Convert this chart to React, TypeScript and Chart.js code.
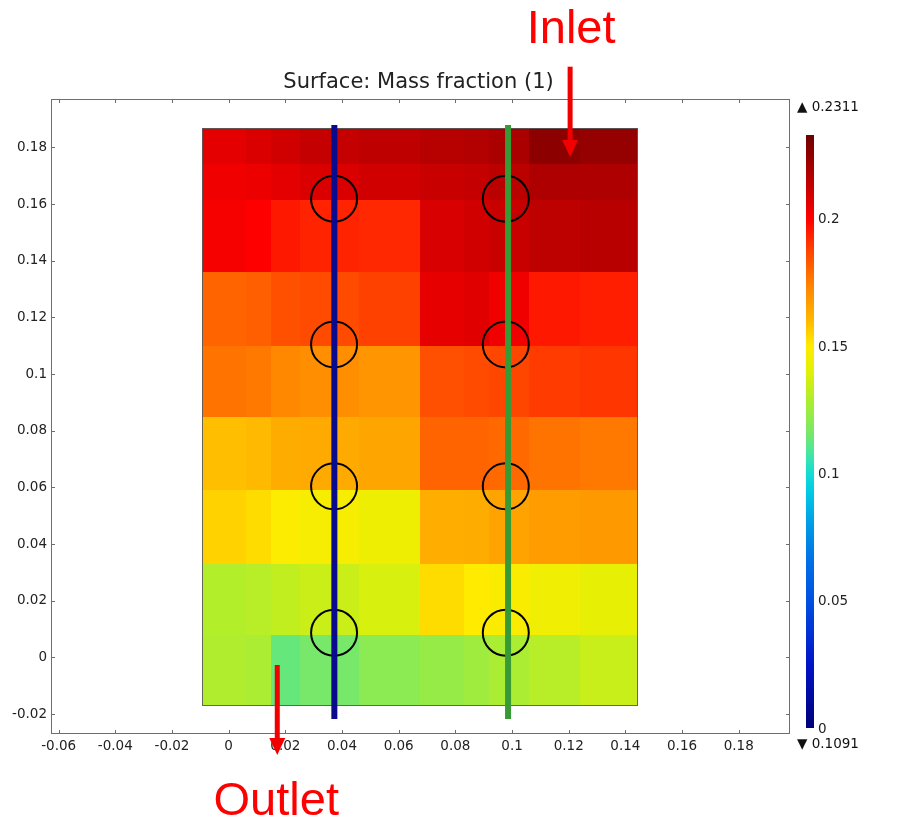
import React, { useEffect, useRef } from 'react';
import { Chart, registerables } from 'chart.js';

Chart.register(...registerables);

// ---------- axis ticks ----------
const xTicks = [-0.06, -0.04, -0.02, 0, 0.02, 0.04, 0.06, 0.08, 0.1, 0.12, 0.14, 0.16, 0.18];
const xTickLabels = ['-0.06', '-0.04', '-0.02', '0', '0.02', '0.04', '0.06', '0.08', '0.1', '0.12', '0.14', '0.16', '0.18'];
const yTicks = [-0.02, 0, 0.02, 0.04, 0.06, 0.08, 0.1, 0.12, 0.14, 0.16, 0.18];
const yTickLabels = ['-0.02', '0', '0.02', '0.04', '0.06', '0.08', '0.1', '0.12', '0.14', '0.16', '0.18'];
const xRange = [-0.0627, 0.1981];
const yRange = [-0.027, 0.1971];

// ---------- surface field (mass fraction), cells between edges ----------
const fieldXEdges = [-0.0093, 0.006, 0.015, 0.025, 0.046, 0.0675, 0.083, 0.092, 0.106, 0.124, 0.1446];
const fieldYEdges = [0.1868, 0.1742, 0.1615, 0.136, 0.110, 0.085, 0.059, 0.033, 0.008, -0.017];
const fieldRow1a = [0.206, 0.208, 0.210, 0.213, 0.214, 0.216, 0.217, 0.219, 0.226, 0.224];
const fieldRow1b = [0.203, 0.204, 0.206, 0.208, 0.210, 0.212, 0.213, 0.215, 0.218, 0.218];
const fieldRow2 = [0.202, 0.200, 0.1955, 0.1935, 0.1925, 0.2085, 0.2100, 0.2120, 0.2145, 0.2155];
const fieldRow3 = [0.1805, 0.1815, 0.1848, 0.1859, 0.188, 0.2055, 0.2065, 0.203, 0.1955, 0.1945];
const fieldRow4 = [0.177, 0.176, 0.1725, 0.171, 0.169, 0.185, 0.186, 0.187, 0.189, 0.190];
const fieldRow5 = [0.159, 0.160, 0.163, 0.1636, 0.165, 0.1805, 0.1805, 0.1794, 0.1772, 0.1762];
const fieldRow6 = [0.155, 0.153, 0.149, 0.147, 0.1445, 0.1625, 0.163, 0.1655, 0.167, 0.168];
const fieldRow7 = [0.130, 0.131, 0.133, 0.135, 0.138, 0.153, 0.150, 0.148, 0.145, 0.142];
const fieldRow8 = [0.129, 0.128, 0.113, 0.116, 0.121, 0.1235, 0.1255, 0.128, 0.131, 0.1345];
const fieldRows = [fieldRow1a, fieldRow1b, fieldRow2, fieldRow3, fieldRow4, fieldRow5, fieldRow6, fieldRow7, fieldRow8];
const fieldMax = '0.2311';
const fieldMin = '0.1091';

// ---------- probe lines and circles ----------
const blueLineX = 0.0373;
const greenLineX = 0.0986;
const probeLineYs = [0.1879, -0.0217];
const blueCircleX = 0.0372;
const greenCircleX = 0.0978;
const circleYs = [0.1619, 0.1105, 0.0604, 0.00875];

// ---------- colorbar ----------
const colorbarTicks = [0, 0.05, 0.1, 0.15, 0.2];
const colorbarTickLabels = ['0', '0.05', '0.1', '0.15', '0.2'];
const colorbarTop = 0.233;

// ---------- annotations (data coords) ----------
const inletArrow = { x: 0.1205, y0: 0.2085, y1: 0.1766 };
const outletArrow = { x: 0.01715, y0: -0.00265, y1: -0.0344 };

// ---------- colormap ----------
const cmapStops = [0, 0.025, 0.05, 0.065, 0.08, 0.092, 0.1, 0.108, 0.115, 0.128, 0.14, 0.15, 0.161, 0.174, 0.187, 0.2, 0.212, 0.233];
const cmapColors = [
  [0, 0, 120], [0, 20, 200], [0, 80, 225], [0, 110, 230], [0, 155, 230], [0, 200, 230],
  [20, 220, 210], [70, 230, 160], [115, 232, 110], [170, 237, 50], [225, 240, 5], [255, 235, 0],
  [255, 180, 0], [255, 130, 0], [255, 70, 0], [255, 0, 0], [200, 0, 0], [110, 0, 0],
];

function colorFor(v: number): string {
  if (v <= cmapStops[0]) return `rgb(${cmapColors[0].join(',')})`;
  for (let i = 1; i < cmapStops.length; i++) {
    if (v <= cmapStops[i]) {
      const t = (v - cmapStops[i - 1]) / (cmapStops[i] - cmapStops[i - 1]);
      const a = cmapColors[i - 1];
      const b = cmapColors[i];
      const c = a.map((ai, k) => Math.round(ai + (b[k] - ai) * t));
      return `rgb(${c.join(',')})`;
    }
  }
  return `rgb(${cmapColors[cmapColors.length - 1].join(',')})`;
}

const FONT = '"DejaVu Sans", sans-serif';
const TEXT_COLOR = '#222';
const FRAME_COLOR = '#6e6e6e';

const fieldPlugin = {
  id: 'fieldSurface',
  beforeDatasetsDraw(chart: any) {
    const { ctx, scales } = chart;
    const xs = scales.x;
    const ys = scales.y;
    ctx.save();
    for (let r = 0; r < fieldRows.length; r++) {
      const py0 = Math.round(ys.getPixelForValue(fieldYEdges[r]));
      const py1 = Math.round(ys.getPixelForValue(fieldYEdges[r + 1]));
      for (let c = 0; c < fieldRows[r].length; c++) {
        const px0 = Math.round(xs.getPixelForValue(fieldXEdges[c]));
        const px1 = Math.round(xs.getPixelForValue(fieldXEdges[c + 1]));
        ctx.fillStyle = colorFor(fieldRows[r][c]);
        ctx.fillRect(px0, py0, px1 - px0, py1 - py0);
      }
    }
    const l = Math.round(xs.getPixelForValue(fieldXEdges[0])) + 0.5;
    const rr = Math.round(xs.getPixelForValue(fieldXEdges[fieldXEdges.length - 1])) - 0.5;
    const t = Math.round(ys.getPixelForValue(fieldYEdges[0])) + 0.5;
    const b = Math.round(ys.getPixelForValue(fieldYEdges[fieldYEdges.length - 1])) - 0.5;
    ctx.strokeStyle = 'rgba(90,90,90,0.9)';
    ctx.lineWidth = 1;
    ctx.strokeRect(l, t, rr - l, b - t);
    ctx.restore();
  },
};

function drawArrow(ctx: CanvasRenderingContext2D, x: number, y0: number, y1: number) {
  const headLen = 17;
  const headHalf = 8;
  const dir = y1 > y0 ? 1 : -1;
  ctx.strokeStyle = '#f20000';
  ctx.fillStyle = '#f20000';
  ctx.lineWidth = 5;
  ctx.lineCap = 'butt';
  ctx.beginPath();
  ctx.moveTo(x, y0);
  ctx.lineTo(x, y1 - dir * headLen + dir * 1);
  ctx.stroke();
  ctx.beginPath();
  ctx.moveTo(x - headHalf, y1 - dir * headLen);
  ctx.lineTo(x + headHalf, y1 - dir * headLen);
  ctx.lineTo(x, y1);
  ctx.closePath();
  ctx.fill();
}

const decorPlugin = {
  id: 'decor',
  afterDraw(chart: any) {
    const { ctx, chartArea, scales } = chart;
    const xs = scales.x;
    const ys = scales.y;
    const { left, right, top, bottom } = chartArea;
    ctx.save();
    // frame
    ctx.strokeStyle = FRAME_COLOR;
    ctx.lineWidth = 1;
    ctx.strokeRect(Math.round(left) + 0.5, Math.round(top) + 0.5, Math.round(right - left) - 1, Math.round(bottom - top) - 1);
    // inward ticks
    ctx.beginPath();
    xTicks.forEach((v) => {
      const px = Math.round(xs.getPixelForValue(v)) + 0.5;
      ctx.moveTo(px, bottom);
      ctx.lineTo(px, bottom - 4);
      ctx.moveTo(px, top);
      ctx.lineTo(px, top + 4);
    });
    yTicks.forEach((v) => {
      const py = Math.round(ys.getPixelForValue(v)) + 0.5;
      ctx.moveTo(left, py);
      ctx.lineTo(left + 4, py);
      ctx.moveTo(right, py);
      ctx.lineTo(right - 4, py);
    });
    ctx.stroke();

    // title
    ctx.fillStyle = TEXT_COLOR;
    ctx.font = `21px ${FONT}`;
    ctx.textAlign = 'center';
    ctx.textBaseline = 'alphabetic';
    ctx.fillText('Surface: Mass fraction (1)', (left + right) / 2 - 2, top - 11);

    // colorbar
    const cbLeft = right + 16;
    const cbWidth = 8;
    const cbBottom = bottom - 6;
    const cbTopPx = top + 36;
    const pxPerUnit = (cbBottom - cbTopPx) / colorbarTop;
    for (let py = cbTopPx; py < cbBottom; py++) {
      const v = (cbBottom - (py + 0.5)) / pxPerUnit;
      ctx.fillStyle = colorFor(v);
      ctx.fillRect(cbLeft, py, cbWidth, 1);
    }
    ctx.font = `13.5px ${FONT}`;
    ctx.textAlign = 'left';
    ctx.textBaseline = 'middle';
    colorbarTicks.forEach((v, i) => {
      const py = cbBottom - v * pxPerUnit;
      ctx.fillStyle = TEXT_COLOR;
      ctx.fillText(colorbarTickLabels[i], cbLeft + 12, py + 1);
    });
    ctx.textBaseline = 'alphabetic';
    ctx.fillStyle = '#111';
    ctx.fillText('▲ ' + fieldMax, right + 7, top + 12);
    ctx.fillText('▼ ' + fieldMin, right + 7, bottom + 14);

    // arrows + labels
    const ix = xs.getPixelForValue(inletArrow.x);
    drawArrow(ctx, ix, ys.getPixelForValue(inletArrow.y0), ys.getPixelForValue(inletArrow.y1));
    const ox = xs.getPixelForValue(outletArrow.x);
    drawArrow(ctx, ox, ys.getPixelForValue(outletArrow.y0), ys.getPixelForValue(outletArrow.y1));
    ctx.fillStyle = '#ff0000';
    ctx.font = '47px "Liberation Sans", Arial, sans-serif';
    ctx.textAlign = 'center';
    ctx.textBaseline = 'alphabetic';
    ctx.fillText('Inlet', ix + 1, 43);
    ctx.fillText('Outlet', ox - 1, 815);
    ctx.restore();
  },
};

export default function App() {
  const canvasRef = useRef<HTMLCanvasElement | null>(null);

  useEffect(() => {
    const canvas = canvasRef.current;
    if (!canvas) return;
    const chart = new Chart(canvas, {
      type: 'scatter',
      data: {
        datasets: [
          {
            type: 'line',
            label: 'probe 1',
            data: probeLineYs.map((y) => ({ x: blueLineX, y })),
            borderColor: '#0a0a8c',
            borderWidth: 6,
            pointRadius: 0,
            borderCapStyle: 'butt',
            showLine: true,
            clip: false,
          } as any,
          {
            type: 'line',
            label: 'probe 2',
            data: probeLineYs.map((y) => ({ x: greenLineX, y })),
            borderColor: '#389a34',
            borderWidth: 6,
            pointRadius: 0,
            borderCapStyle: 'butt',
            showLine: true,
            clip: false,
          } as any,
          {
            label: 'circles 1',
            data: circleYs.map((y) => ({ x: blueCircleX, y })),
            pointRadius: 23,
            pointHoverRadius: 23,
            pointBorderWidth: 2,
            pointBackgroundColor: 'rgba(0,0,0,0)',
            pointBorderColor: '#000',
            showLine: false,
          } as any,
          {
            label: 'circles 2',
            data: circleYs.map((y) => ({ x: greenCircleX, y })),
            pointRadius: 23,
            pointHoverRadius: 23,
            pointBorderWidth: 2,
            pointBackgroundColor: 'rgba(0,0,0,0)',
            pointBorderColor: '#000',
            showLine: false,
          } as any,
        ],
      },
      options: {
        animation: false,
        responsive: false,
        devicePixelRatio: 1,
        layout: { padding: { left: 0, top: 99, right: 114, bottom: 0 } },
        plugins: {
          legend: { display: false },
          title: { display: false },
          tooltip: { enabled: false },
        },
        scales: {
          x: {
            type: 'linear',
            min: xRange[0],
            max: xRange[1],
            grid: { display: false, drawTicks: false },
            border: { display: false },
            ticks: {
              padding: 4,
              color: TEXT_COLOR,
              font: { family: FONT, size: 13.5 },
              maxRotation: 0,
              autoSkip: false,
              callback: (v: any) => {
                const i = xTicks.findIndex((t) => Math.abs(t - v) < 1e-9);
                return i >= 0 ? xTickLabels[i] : '';
              },
            },
            afterBuildTicks: (scale: any) => {
              scale.ticks = xTicks.map((value) => ({ value }));
            },
            afterFit: (scale: any) => {
              scale.height = 88;
            },
          },
          y: {
            type: 'linear',
            min: yRange[0],
            max: yRange[1],
            grid: { display: false, drawTicks: false },
            border: { display: false },
            ticks: {
              padding: 4,
              color: TEXT_COLOR,
              font: { family: FONT, size: 13.5 },
              autoSkip: false,
              callback: (v: any) => {
                const i = yTicks.findIndex((t) => Math.abs(t - v) < 1e-9);
                return i >= 0 ? yTickLabels[i] : '';
              },
            },
            afterBuildTicks: (scale: any) => {
              scale.ticks = yTicks.map((value) => ({ value }));
            },
            afterFit: (scale: any) => {
              scale.width = 51;
            },
          },
        },
      } as any,
      plugins: [fieldPlugin, decorPlugin],
    });
    return () => chart.destroy();
  }, []);

  return (
    <div style={{ position: 'fixed', left: 0, top: 0, width: 904, height: 822, background: '#fff' }}>
      <canvas ref={canvasRef} width={904} height={822} style={{ display: 'block' }} />
    </div>
  );
}
